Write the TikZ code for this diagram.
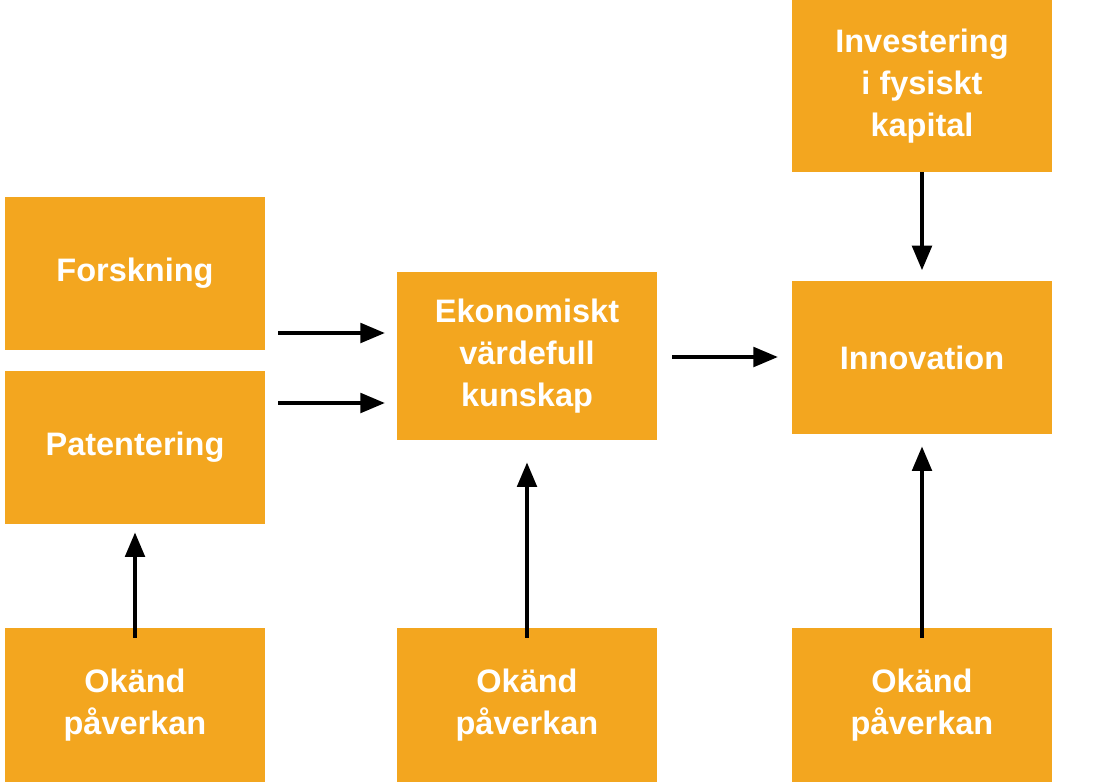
\documentclass[tikz,border=0pt]{standalone}
\usepackage{fontspec}
\setmainfont{Liberation Sans}
\usetikzlibrary{arrows.meta}
\definecolor{boxorange}{HTML}{F3A61F}
\begin{document}
\begin{tikzpicture}[
        x=0.02cm, y=-0.02cm,
        box/.style={fill=boxorange, draw=none, minimum width=5.2cm, align=center,
            text=white, font=\fontsize{18.5}{24}\selectfont\bfseries, inner sep=0pt},
        flow/.style={-{Triangle[length=14pt,width=11pt]}, line width=2.4pt, black}
    ]
    \useasboundingbox (0,0) rectangle (1096,782);

    % boxes
    \node[box, minimum height=3.06cm] (forsk) at (135,273.5) {Forskning};
    \node[box, minimum height=3.06cm] (patent) at (135,447.5) {Patentering};
    \node[box, minimum height=3.36cm] (kunskap) at (527,356) {Ekonomiskt\\värdefull\\kunskap};
    \node[box, minimum height=3.44cm] (invest) at (922,86) {Investering\\i fysiskt\\kapital};
    \node[box, minimum height=3.06cm] (innov) at (922,357.5) {Innovation};
    \node[box, minimum height=3.08cm] (okand1) at (135,705) {Okänd\\påverkan};
    \node[box, minimum height=3.08cm] (okand2) at (527,705) {Okänd\\påverkan};
    \node[box, minimum height=3.08cm] (okand3) at (922,705) {Okänd\\påverkan};

    % arrow ends
    \coordinate (f1) at (278,333);
    \coordinate (f2) at (385,333);
    \coordinate (p1) at (278,403);
    \coordinate (p2) at (385,403);
    \coordinate (k1) at (672,357);
    \coordinate (k2) at (778,357);

    % arrows
    \draw[flow] (f1) -- (f2);
    \draw[flow] (p1) -- (p2);
    \draw[flow] (k1) -- (k2);
    \draw[flow] (invest.south) -- ++(0,98);
    \draw[flow] ([yshift=-0.2cm]okand1.north) -- ([yshift=-0.16cm]patent.south);
    \draw[flow] ([yshift=-0.2cm]okand2.north) -- ([yshift=-0.44cm]kunskap.south);
    \draw[flow] ([yshift=-0.2cm]okand3.north) -- ([yshift=-0.24cm]innov.south);
\end{tikzpicture}
\end{document}
